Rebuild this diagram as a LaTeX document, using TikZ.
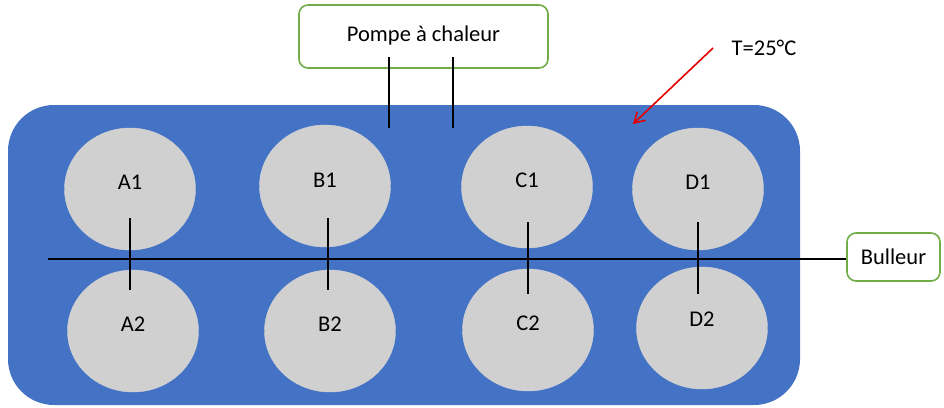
\documentclass[tikz,border=0pt]{standalone}
\usepackage{fontspec}
\setmainfont{Carlito}
\usetikzlibrary{shapes.geometric,arrows.meta}
\definecolor{tankblue}{RGB}{68,114,196}
\definecolor{cellgray}{RGB}{208,208,208}
\definecolor{boxgreen}{RGB}{112,173,71}
\definecolor{arrowred}{RGB}{230,0,0}
\tikzset{
  cell/.style={ellipse,fill=cellgray,draw=cellgray!90!white,minimum width=131pt,minimum height=122pt,inner sep=0pt},
  celltext/.style={font=\fontsize{22.5}{27}\selectfont,inner sep=0pt},
  gbox/.style={draw=boxgreen,line width=1.6pt,rounded corners=9pt,fill=white,font=\fontsize{22.5}{27}\selectfont,inner sep=0pt},
  wire/.style={line width=1.8pt,black},
}
\begin{document}
\begin{tikzpicture}[x=1pt,y=-1pt]
\useasboundingbox (0,0) rectangle (944,407);
\fill[tankblue,rounded corners=46pt] (8,105) rectangle (800,405);
% cells
\node[cell] (a1) at (130,189) {};
\node[cell] (a2) at (133,331) {};
\node[cell] (b1) at (325,186) {};
\node[cell] (b2) at (330,331) {};
\node[cell] (c1) at (527,187) {};
\node[cell] (c2) at (528,330) {};
\node[cell] (d1) at (698,189) {};
\node[cell] (d2) at (702,328) {};
\node[celltext] (a1t) at (130,182) {A1};
\node[celltext] (a2t) at (133,324) {A2};
\node[celltext] (b1t) at (325,180) {B1};
\node[celltext] (b2t) at (330,324) {B2};
\node[celltext] (c1t) at (527,180) {C1};
\node[celltext] (c2t) at (528,323) {C2};
\node[celltext] (d1t) at (698,182) {D1};
\node[celltext] (d2t) at (702,319) {D2};
% boxes
\node[gbox,minimum width=249pt,minimum height=63pt] (pompe) at (423.5,36.5) {\raisebox{5pt}{Pompe à chaleur}};
\node[gbox,minimum width=93pt,minimum height=48pt] (bulleur) at (893.5,257) {Bulleur};
% pump pipes
\coordinate (p1) at (389,57);
\coordinate (p1e) at (389,128);
\coordinate (p2) at (453,57);
\coordinate (p2e) at (453,128);
\draw[wire] (p1) -- (p1e);
\draw[wire] (p2) -- (p2e);
% bubbler line
\coordinate (hs) at (48,259);
\draw[wire] (hs) -- (hs -| bulleur.west);
% vertical links
\coordinate (av1) at (130,218); \coordinate (av2) at (130,290);
\coordinate (bv1) at (328,218); \coordinate (bv2) at (328,290);
\coordinate (cv1) at (528,222); \coordinate (cv2) at (528,294);
\coordinate (dv1) at (698,222); \coordinate (dv2) at (698,294);
\draw[wire] (av1) -- (av2);
\draw[wire] (bv1) -- (bv2);
\draw[wire] (cv1) -- (cv2);
\draw[wire] (dv1) -- (dv2);
% temperature
\node[font=\fontsize{22.5}{27}\selectfont,inner sep=0pt] (temp) at (764,48) {T=25°C};
\coordinate (as) at (713,48);
\coordinate (ae) at (633,124);
\draw[arrowred,line width=1.6pt,-{Straight Barb[length=10pt,width=12pt]}] (as) -- (ae);
\end{tikzpicture}
\end{document}
